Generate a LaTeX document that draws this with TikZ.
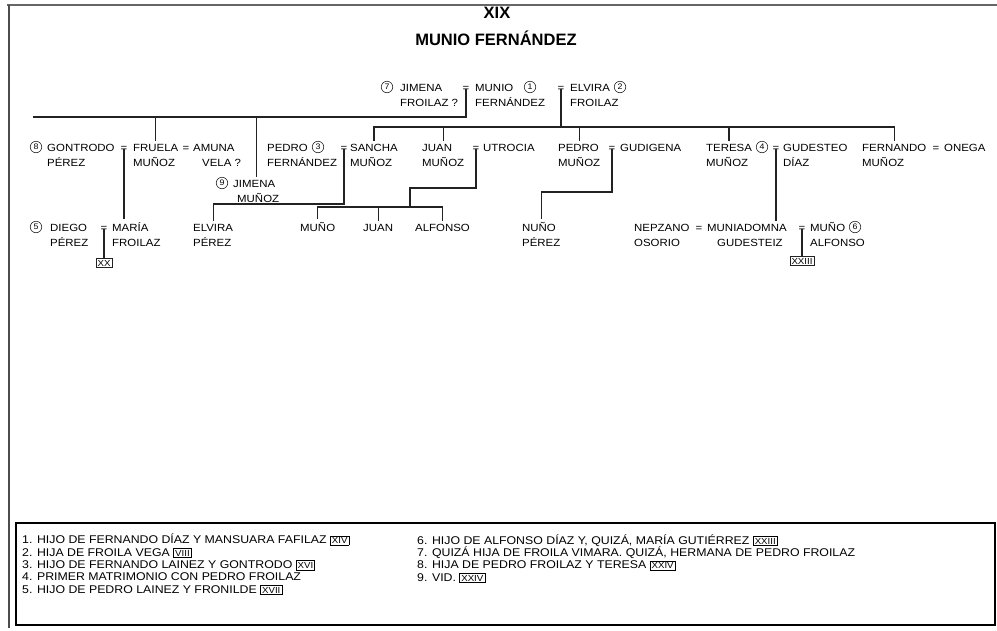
\documentclass[tikz,border=0pt]{standalone}
\usepackage{fontspec}
\setmainfont{Liberation Sans}[FakeStretch=1.1]
\newfontfamily\headfont{Liberation Sans}
\usepackage{tikz}
\usetikzlibrary{positioning}
\definecolor{inkgray}{HTML}{222222}
\newcommand{\romanbox}[1]{{\fboxsep=1.2pt\fboxrule=0.7pt\fbox{\fontsize{8.8}{9}\selectfont #1}}}

\begin{document}
\begin{tikzpicture}[x=1pt, y=-1pt,
  node distance=25pt,
  person/.style={anchor=base west, align=left, inner sep=0pt, outer ysep=3pt,
                 font=\fontsize{10.4}{15}\selectfont},
  eqsign/.style={anchor=base, inner sep=0pt, font=\fontsize{10.4}{15}\selectfont},
  num/.style={circle, draw=inkgray, line width=0.6pt, inner sep=0pt, minimum size=11.5pt,
              font=\fontsize{8}{8}\selectfont},
  roman/.style={draw=inkgray, line width=0.7pt, inner sep=1.5pt,
                font=\fontsize{8.8}{9}\selectfont},
  link/.style={inkgray, line width=1.2pt},
  legend/.style={anchor=base west, align=left, inner sep=0pt,
                 font=\fontsize{11.2}{12.3}\selectfont}]
\useasboundingbox (0,0) rectangle (997,630);
\draw[black!60, line width=1.6pt] (7,5) -- (997,5);
\draw[black!70, line width=1.2pt] (9,5) -- (9,628);

\node[font=\headfont\bfseries\fontsize{16.5}{18}\selectfont] (roman) at (497,13) {XIX};
\node[font=\headfont\bfseries\fontsize{16.5}{18}\selectfont] (title) at (496,38) {MUNIO FERNÁNDEZ};

\node[num] (n7) at (387,87) {7};
\node[person] (jimenaf) at (400,106) {JIMENA\\FROILAZ ?};
\node[eqsign] (eqjm) at (466,91) {=};
\node[person] (munio) at (475,106) {MUNIO\\FERNÁNDEZ};
\node[num] (n1) at (530,87) {1};
\node[eqsign] (eqme) at (561,91) {=};
\node[person] (elvira) at (570,106) {ELVIRA\\FROILAZ};
\node[num] (n2) at (620,87) {2};

\node[num] (n8) at (36,147) {8};
\node[person] (gontrodo) at (47,166) {GONTRODO\\PÉREZ};
\node[eqsign] (eqgf) at (124,151) {=};
\node[person] (fruela) at (133,166) {FRUELA\\MUÑOZ};
\node[eqsign] (eqfa) at (186,151) {=};
\node[person] (amuna) at (193,166) {AMUNA\\\hspace*{9pt}VELA ?};
\node[person] (pedrof) at (267,166) {PEDRO\\FERNÁNDEZ};
\node[num] (n3) at (318,147) {3};
\node[eqsign] (eqps) at (344,151) {=};
\node[person] (sancha) at (350,166) {SANCHA\\MUÑOZ};
\node[person] (juanm) at (422,166) {JUAN\\MUÑOZ};
\node[eqsign] (eqju) at (476,151) {=};
\node[person] (utrocia) at (483,151) {UTROCIA};
\node[person] (pedrom) at (558,166) {PEDRO\\MUÑOZ};
\node[eqsign] (eqpg) at (612,151) {=};
\node[person] (gudigena) at (620,151) {GUDIGENA};
\node[person] (teresa) at (706,166) {TERESA\\MUÑOZ};
\node[num] (n4) at (762,147) {4};
\node[eqsign] (eqtg) at (776,151) {=};
\node[person] (gudesteo) at (783,166) {GUDESTEO\\DÍAZ};
\node[person] (fernando) at (862,166) {FERNANDO\\MUÑOZ};
\node[eqsign] (eqfo) at (936,151) {=};
\node[person] (onega) at (944,151) {ONEGA};

\node[num] (n9) at (222,183) {9};
\node[person] (jimenam) at (233,202) {JIMENA\\\hspace*{4pt}MUÑOZ};

\node[num] (n5) at (36,227) {5};
\node[person] (diego) at (50,246) {DIEGO\\PÉREZ};
\node[eqsign] (eqdm) at (104,231) {=};
\node[person] (maria) at (112,246) {MARÍA\\FROILAZ};
\node[person] (elvirap) at (193,246) {ELVIRA\\PÉREZ};
\node[person] (muno) at (300,231) {MUÑO};
\node[person] (juan) at (363,231) {JUAN};
\node[person] (alfonso) at (415,231) {ALFONSO};
\node[person] (nuno) at (522,246) {NUÑO\\PÉREZ};
\node[person] (nepzano) at (634,246) {NEPZANO\\OSORIO};
\node[eqsign] (eqnm) at (699,231) {=};
\node[person] (muniadomna) at (707,246) {MUNIADOMNA\\\hspace*{10pt}GUDESTEIZ};
\node[eqsign] (eqmm) at (802,231) {=};
\node[person] (munoa) at (810,246) {MUÑO\\ALFONSO};
\node[num] (n6) at (855,227) {6};
\node[roman, below=27pt of eqdm] (xx) {XX};
\node[roman, below=25pt of eqmm] (xxiii) {XXIII};

\coordinate (busjm) at (466,117);
\coordinate (endjm) at (33,117);
\coordinate (busme) at (561,127);
\coordinate (busps) at (344,204);
\coordinate (bendju) at (476,188);
\coordinate (busju) at (410,207);
\coordinate (buspg) at (612,192);

\draw[link] ([yshift=2.3pt]eqjm.base) -- (busjm) -- (endjm);
\draw[link] (busjm) -| (fruela.north);
\draw[link] (busjm) -| (jimenam.north);
\draw[link] ([yshift=2.3pt]eqme.base) -- (busme);
\draw[link] (busme) -| (sancha.north);
\draw[link] (busme) -| (juanm.north);
\draw[link] (busme) -| (pedrom.north);
\draw[link] (busme) -| (teresa.north);
\draw[link] (busme) -| (fernando.north);
\draw[link] ([yshift=2.3pt]eqgf.base) -- (eqgf.base |- maria.north);
\draw[link] ([yshift=2.3pt]eqps.base) -- (busps) -| (elvirap.north);
\draw[link] ([yshift=2.3pt]eqju.base) -- (bendju) -| (busju);
\draw[link] (busju) -| (muno.north);
\draw[link] (busju) -| (juan.north);
\draw[link] (busju) -| (alfonso.north);
\draw[link] ([yshift=2.3pt]eqpg.base) -- (buspg) -| (nuno.north);
\draw[link] ([yshift=2.3pt]eqtg.base) -- (eqtg.base |- muniadomna.north);
\draw[link] ([yshift=2.3pt]eqdm.base) -- (xx);
\draw[link] ([yshift=2.3pt]eqmm.base) -- (xxiii);

\draw[line width=2pt] (16,523) rectangle (995,625);
\node[legend] (notesl) at (22,593) {1. HIJO DE FERNANDO DÍAZ Y MANSUARA FAFILAZ \romanbox{XIV}\\
2. HIJA DE FROILA VEGA \romanbox{VIII}\\
3. HIJO DE FERNANDO LAINEZ Y GONTRODO \romanbox{XVI}\\
4. PRIMER MATRIMONIO CON PEDRO FROILAZ\\
5. HIJO DE PEDRO LAINEZ Y FRONILDE \romanbox{XVII}};
\node[legend] (notesr) at (417,581) {6. HIJO DE ALFONSO DÍAZ Y, QUIZÁ, MARÍA GUTIÉRREZ \romanbox{XXIII}\\
7. QUIZÁ HIJA DE FROILA VIMARA. QUIZÁ, HERMANA DE PEDRO FROILAZ\\
8. HIJA DE PEDRO FROILAZ Y TERESA \romanbox{XXIV}\\
9. VID. \romanbox{XXIV}};
\end{tikzpicture}
\end{document}
